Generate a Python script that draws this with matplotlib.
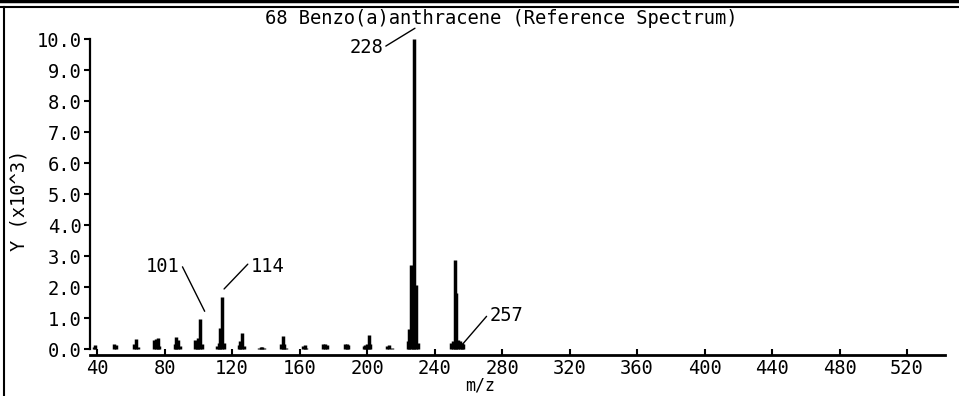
import numpy as np
import matplotlib
matplotlib.use('Agg')
import matplotlib.pyplot as plt
from matplotlib.lines import Line2D

# spectrum data (m/z, abundance x10^3)
mz = [38, 39, 50, 51, 62, 63, 64, 74, 75, 76, 77, 86, 87, 88, 89,
      98, 99, 100, 101, 102, 111, 112, 113, 114, 115, 124, 125, 126, 127,
      136, 137, 138, 139, 149, 150, 151, 152, 162, 163, 164, 174, 175, 176,
      187, 188, 189, 198, 199, 200, 201, 202, 212, 213, 215,
      224, 225, 226, 227, 228, 229, 230, 250, 251, 252, 253, 254, 255, 256, 257]
abund = [0.08, 0.12, 0.18, 0.12, 0.15, 0.32, 0.08, 0.30, 0.33, 0.35, 0.10, 0.15, 0.38, 0.30, 0.10,
         0.30, 0.20, 0.35, 0.97, 0.15, 0.10, 0.20, 0.68, 1.68, 0.20, 0.12, 0.25, 0.52, 0.10,
         0.05, 0.08, 0.06, 0.04, 0.15, 0.42, 0.18, 0.05, 0.10, 0.12, 0.05, 0.15, 0.18, 0.12,
         0.18, 0.15, 0.14, 0.10, 0.12, 0.18, 0.45, 0.15, 0.10, 0.12, 0.05,
         0.25, 0.65, 2.70, 0.65, 10.0, 2.06, 0.20, 0.20, 0.25, 2.88, 1.82, 0.30, 0.25, 0.20, 0.15]

# labelled peaks: (label, tip x, tip y, text x, text y, ha, relpos)
labels = [('228', 228.4, 10.35, 209.5, 9.72, 'right', (1.0, 0.5)),
          ('101', 103.8, 1.22, 89.0, 2.65, 'right', (1.0, 0.8)),
          ('114', 115.3, 1.94, 131.0, 2.65, 'left', (0.0, 0.8)),
          ('257', 255.7, 0.10, 272.5, 1.10, 'left', (0.0, 0.6))]

xticks = np.arange(40, 521, 40)
yticks = np.arange(0, 10.1, 1.0)

mono = 'DejaVu Sans Mono'
fs = 13.5

fig = plt.figure(figsize=(9.59, 3.96), dpi=100)
ax = fig.add_axes([90 / 959, 41 / 396, 855 / 959, 319 / 396])

ax.vlines(mz, 0, abund, color='black', linewidth=2.5)

ax.set_xlim(35.85, 542.5)
ax.set_ylim(-0.19, 10.1)

for s in ['top', 'right']:
    ax.spines[s].set_visible(False)
ax.spines['left'].set_bounds(0, 10)
ax.spines['left'].set_linewidth(1.6)
ax.spines['bottom'].set_linewidth(2.0)

ax.set_xticks(xticks)
ax.set_xticklabels([str(v) for v in xticks], fontfamily=mono, fontsize=fs)
ax.set_yticks(yticks)
ax.set_yticklabels(['%.1f' % v for v in yticks], fontfamily=mono, fontsize=fs)
ax.tick_params(axis='x', direction='in', length=4, width=1.5, pad=3)
ax.tick_params(axis='y', direction='out', length=4, width=1.5, pad=2)

for lab, x0, y0, tx, ty, ha, rp in labels:
    ax.annotate(lab, xy=(x0, y0), xytext=(tx, ty), ha=ha, va='center',
                fontfamily=mono, fontsize=fs, annotation_clip=False,
                arrowprops=dict(arrowstyle='-', color='black', lw=1.0,
                                relpos=rp, shrinkA=0, shrinkB=0))

fig.text(501 / 959, 1 - 19 / 396, '68 Benzo(a)anthracene (Reference Spectrum)',
         ha='center', va='center', fontfamily=mono, fontsize=fs)
fig.text(480 / 959, 1 - 386 / 396, 'm/z', ha='center', va='center',
         fontfamily=mono, fontsize=12)
fig.text(19 / 959, 1 - 200 / 396, 'Y (x10^3)', ha='center', va='center',
         rotation=90, fontfamily=mono, fontsize=fs)

# outer frame lines
fig.add_artist(Line2D([4 / 959, 4 / 959], [0, 1 - 7 / 396], color='black', lw=1.5))
fig.add_artist(Line2D([0, 1], [1 - 7 / 396, 1 - 7 / 396], color='black', lw=1.5))
fig.add_artist(Line2D([0, 1], [1 - 1 / 396, 1 - 1 / 396], color='black', lw=2.5))

fig.savefig('out.png', dpi=100)
